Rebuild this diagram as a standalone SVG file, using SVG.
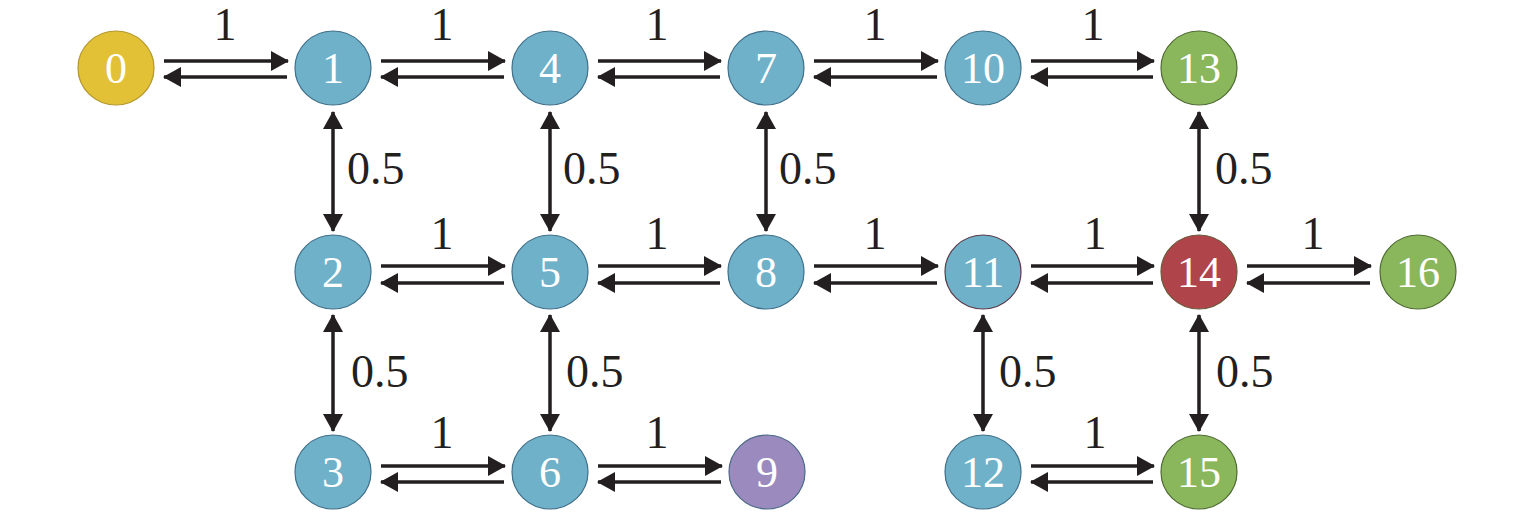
<svg xmlns="http://www.w3.org/2000/svg" width="1535" height="515" viewBox="0 0 1535 515">
<style>
.n{stroke-width:1.2}
.b{fill:#6FB1C8;stroke:#40708A}
.y{fill:#E3C137;stroke:#B3962C}
.g{fill:#8BB75C;stroke:#4F6B33}
.r{fill:#B0444B;stroke:#6A5A3A}
.p{fill:#9B8ABD;stroke:#4A6A88}
.t{font-size:44px;fill:#fff;text-anchor:middle}
.l{font-size:46px;fill:#231F20}
.c{text-anchor:middle}
.e line{stroke:#231F20;stroke-width:3.5;marker-end:url(#ah)}
.e line.d{marker-start:url(#ah)}
</style>
<defs>
<marker id="ah" viewBox="0 0 18 20" refX="17" refY="10" markerWidth="18" markerHeight="20" markerUnits="userSpaceOnUse" orient="auto-start-reverse">
<path d="M0,0 L18,10 L0,20 z" fill="#231F20"/>
</marker>
</defs>
<rect width="1535" height="515" fill="#fff"/>
<g id="connectors" class="e">
<line x1="164" y1="61" x2="288" y2="61"/><line x1="287" y1="77" x2="164" y2="77"/>
<line x1="381" y1="61" x2="505" y2="61"/><line x1="504" y1="77" x2="381" y2="77"/>
<line x1="598" y1="61" x2="721" y2="61"/><line x1="720" y1="77" x2="598" y2="77"/>
<line x1="814" y1="61" x2="938" y2="61"/><line x1="937" y1="77" x2="814" y2="77"/>
<line x1="1031" y1="61" x2="1154" y2="61"/><line x1="1153" y1="77" x2="1031" y2="77"/>
<line x1="381" y1="266" x2="505" y2="266"/><line x1="504" y1="283" x2="381" y2="283"/>
<line x1="598" y1="266" x2="721" y2="266"/><line x1="720" y1="283" x2="598" y2="283"/>
<line x1="814" y1="266" x2="938" y2="266"/><line x1="937" y1="283" x2="814" y2="283"/>
<line x1="1031" y1="266" x2="1154" y2="266"/><line x1="1153" y1="283" x2="1031" y2="283"/>
<line x1="1247" y1="266" x2="1371" y2="266"/><line x1="1370" y1="283" x2="1247" y2="283"/>
<line x1="381" y1="466" x2="505" y2="466"/><line x1="504" y1="482" x2="381" y2="482"/>
<line x1="598" y1="466" x2="722" y2="466"/><line x1="721" y1="482" x2="598" y2="482"/>
<line x1="1031" y1="466" x2="1154" y2="466"/><line x1="1153" y1="482" x2="1031" y2="482"/>
<line class="d" x1="333" y1="112" x2="333" y2="231"/>
<line class="d" x1="550" y1="112" x2="550" y2="231"/>
<line class="d" x1="766" y1="112" x2="766" y2="231"/>
<line class="d" x1="1199" y1="112" x2="1199" y2="231"/>
<line class="d" x1="333" y1="315" x2="333" y2="431"/>
<line class="d" x1="550" y1="315" x2="550" y2="431"/>
<line class="d" x1="983" y1="315" x2="983" y2="431"/>
<line class="d" x1="1199" y1="315" x2="1199" y2="431"/>
</g>
<g id="labels" class="l" font-family="Liberation Serif, Times New Roman, Times, Noto Serif, DejaVu Serif, serif">
<text class="c" x="225" y="40">1</text>
<text class="c" x="442" y="40">1</text>
<text class="c" x="657" y="40">1</text>
<text class="c" x="875" y="40">1</text>
<text class="c" x="1093" y="40">1</text>
<text class="c" x="442" y="249">1</text>
<text class="c" x="657" y="249">1</text>
<text class="c" x="875" y="249">1</text>
<text class="c" x="1095" y="249">1</text>
<text class="c" x="1313" y="249">1</text>
<text class="c" x="442" y="448">1</text>
<text class="c" x="657" y="448">1</text>
<text class="c" x="1095" y="448">1</text>
<text x="347" y="184">0.5</text>
<text x="563" y="184">0.5</text>
<text x="779" y="184">0.5</text>
<text x="1215" y="184">0.5</text>
<text x="351" y="387">0.5</text>
<text x="566" y="387">0.5</text>
<text x="999" y="387">0.5</text>
<text x="1216" y="387">0.5</text>
</g>
<g id="nodes" font-family="Liberation Serif, Times New Roman, Times, Noto Serif, DejaVu Serif, serif">
<g id="node0"><ellipse class="n y" cx="116" cy="68" rx="38" ry="37"/><text class="t" x="116" y="83">0</text></g>
<g id="node1"><ellipse class="n b" cx="333" cy="68" rx="38" ry="37"/><text class="t" x="333" y="83">1</text></g>
<g id="node4"><ellipse class="n b" cx="550" cy="68" rx="38" ry="37"/><text class="t" x="550" y="83">4</text></g>
<g id="node7"><ellipse class="n b" cx="766" cy="68" rx="38" ry="37"/><text class="t" x="766" y="83">7</text></g>
<g id="node10"><ellipse class="n b" cx="983" cy="68" rx="38" ry="37"/><text class="t" x="983" y="83">10</text></g>
<g id="node13"><ellipse class="n g" cx="1199" cy="68" rx="38" ry="37"/><text class="t" x="1199" y="83">13</text></g>
<g id="node2"><ellipse class="n b" cx="333" cy="272" rx="38" ry="37"/><text class="t" x="333" y="287">2</text></g>
<g id="node5"><ellipse class="n b" cx="550" cy="272" rx="38" ry="37"/><text class="t" x="550" y="287">5</text></g>
<g id="node8"><ellipse class="n b" cx="766" cy="272" rx="38" ry="37"/><text class="t" x="766" y="287">8</text></g>
<g id="node11"><ellipse class="n b" cx="983" cy="272" rx="38" ry="37" style="stroke:#5A3A4A"/><text class="t" x="983" y="287">11</text></g>
<g id="node14"><ellipse class="n r" cx="1199" cy="272" rx="38" ry="37"/><text class="t" x="1199" y="287">14</text></g>
<g id="node16"><ellipse class="n g" cx="1418" cy="272" rx="38" ry="37"/><text class="t" x="1418" y="287">16</text></g>
<g id="node3"><ellipse class="n b" cx="333" cy="472" rx="38" ry="37"/><text class="t" x="333" y="487">3</text></g>
<g id="node6"><ellipse class="n b" cx="550" cy="472" rx="38" ry="37"/><text class="t" x="550" y="487">6</text></g>
<g id="node9"><ellipse class="n p" cx="767" cy="472" rx="38" ry="37"/><text class="t" x="767" y="487">9</text></g>
<g id="node12"><ellipse class="n b" cx="983" cy="472" rx="38" ry="37"/><text class="t" x="983" y="487">12</text></g>
<g id="node15"><ellipse class="n g" cx="1199" cy="472" rx="38" ry="37"/><text class="t" x="1199" y="487">15</text></g>
</g>
</svg>
